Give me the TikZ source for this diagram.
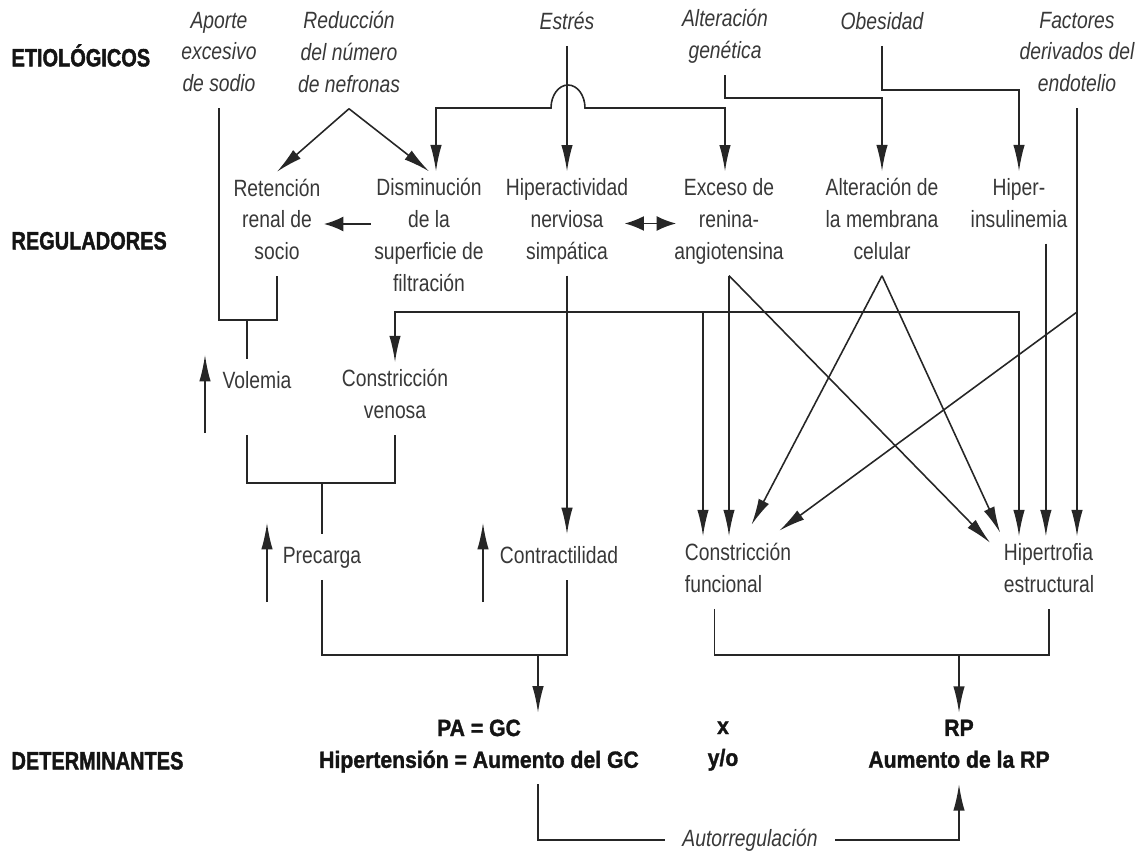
\documentclass[tikz,border=0pt]{standalone}
\usepackage{fontspec}
\setmainfont{Liberation Sans}[FakeStretch=0.82]
\newfontfamily\headfont{Liberation Sans}[FakeStretch=0.8,BoldFeatures={FakeBold=1.6}]
\newfontfamily\detfont{Liberation Sans}[FakeStretch=0.9,BoldFeatures={FakeBold=1.3}]
\usetikzlibrary{arrows.meta}

\begin{document}
\begin{tikzpicture}[x=0.02cm,y=-0.02cm,
  lab/.style={align=center,inner sep=0pt,outer xsep=2pt,outer ysep=4pt,text=black!78,
    font=\fontsize{13.4}{18.1}\selectfont,
    execute at begin node=\strut,execute at end node=\strut},
  cause/.style={lab,font=\fontsize{13.4}{18.1}\selectfont\itshape},
  head/.style={lab,anchor=west,text=black!92,font=\fontsize{14.2}{18.1}\selectfont\headfont\bfseries},
  det/.style={lab,text=black!92,font=\fontsize{13.4}{18.1}\selectfont\detfont\bfseries},
  ln/.style={draw=black!85,line width=0.9pt},
  arr/.style={ln,-{Latex[length=15pt,width=6.5pt]}},
  harr/.style={ln,-{Latex[length=11pt,width=8.5pt]}},
  dbl/.style={ln,{Latex[length=11pt,width=8.5pt]}-{Latex[length=11pt,width=8.5pt]}},
  dblv/.style={ln,{Latex[length=15pt,width=6.5pt]}-{Latex[length=15pt,width=6.5pt]}}]

\useasboundingbox (0,0) rectangle (1145,854);

\node[head] (hEtio) at (8,60) {ETIOLÓGICOS};
\node[head] (hReg) at (8,243) {REGULADORES};
\node[head] (hDet) at (8,763) {DETERMINANTES};

\node[cause] (aporte) at (219,56.5) {Aporte\\excesivo\\de sodio};
\node[cause] (reduccion) at (349,56.5) {Reducción\\del número\\de nefronas};
\node[cause] (estres) at (567,23) {Estrés};
\node[cause] (genetica) at (725,39) {Alteración\\genética};
\node[cause] (obesidad) at (882,23) {Obesidad};
\node[cause] (factores) at (1077,56.5) {Factores\\derivados del\\endotelio};

\node[lab] (retencion) at (277,224) {Retención\\renal de\\socio};
\node[lab] (disminucion) at (429,239.5) {Disminución\\de la\\superficie de\\filtración};
\node[lab] (hiperact) at (567,223.5) {Hiperactividad\\nerviosa\\simpática};
\node[lab] (exceso) at (729,223.5) {Exceso de\\renina-\\angiotensina};
\node[lab] (membrana) at (882,223.5) {Alteración de\\la membrana\\celular};
\node[lab] (insulin) at (1019,207.5) {Hiper-\\insulinemia};

\node[lab] (volemia) at (257,382) {Volemia};
\node[lab] (venosa) at (395,398.5) {Constricción\\venosa};
\node[lab] (precarga) at (322,557) {Precarga};
\node[lab] (contract) at (559,557) {Contractilidad};
\node[lab,align=left] (funcional) at (738,572.5) {Constricción\\funcional};
\node[lab,align=left] (hipertrofia) at (1049,572.5) {Hipertrofia\\estructural};

\node[det] (pagc) at (479,748.5) {PA = GC\\Hipertensión = Aumento del GC};
\node[det] (xyo) at (723,748.5) {x\\y/o};
\node[det] (rp) at (959,748.5) {RP\\Aumento de la RP};
\node[cause,outer xsep=10pt] (autorreg) at (750,840) {Autorregulación};

\coordinate (vJ) at (247,320);
\coordinate (pJ) at (322,483);
\coordinate (eL) at (436,108);
\coordinate (eA) at (551,108);
\coordinate (eR) at (725,108);
\coordinate (gJ) at (725,98);
\coordinate (oJ) at (1019,90);
\coordinate (hJ) at (567,312);
\coordinate (fA) at (703,312);
\coordinate (hR) at (1019,312);
\coordinate (cJ) at (538,655);
\coordinate (rJ) at (959,655);
\coordinate (upV) at (205,433);
\coordinate (upP) at (267,602);
\coordinate (upC) at (483,602);
\coordinate (iS) at ([xshift=15.3pt]insulin.south);
\coordinate (fS) at ([xshift=-13.3pt]funcional.south);

\draw[ln] (aporte.south) |- (vJ) -| (retencion.south);
\draw[ln] (vJ) -- (vJ |- volemia.north);
\draw[arr] (reduccion.south) -- (retencion.north);
\draw[arr] (reduccion.south) -- (disminucion.north);
\draw[harr] (disminucion.west |- retencion) -- (retencion.east);
\draw[arr] (estres.south) -- (hiperact.north);
\draw[dblv] (eL |- disminucion.north) -- (eL) -- (eA) arc[start angle=180,end angle=0,x radius=0.34cm,y radius=0.46cm] -- (eR) -- (eR |- exceso.north);
\draw[dbl,shorten <=-4pt,shorten >=-3pt] (hiperact.east) -- (exceso.west);
\draw[arr] (genetica.south) -- (gJ) -| (membrana.north);
\draw[arr] (obesidad.south) |- (oJ) -- (insulin.north);

\draw[arr] (hiperact.south) -- (hiperact.south |- contract.north);
\draw[arr] (hJ) -| (venosa.north);
\draw[arr] (hJ) -| (hR |- hipertrofia.north);
\draw[arr] (fA) -- (fA |- funcional.north);
\draw[arr] (exceso.south) -- (exceso.south |- funcional.north);
\draw[arr] (exceso.south) -- ([xshift=-33.5pt,yshift=-3.7pt]hipertrofia.north);
\draw[arr] (membrana.south) -- ([xshift=7.7pt,yshift=6.5pt]funcional.north);
\draw[arr] (membrana.south) -- ([xshift=-27.8pt,yshift=2pt]hipertrofia.north);
\draw[arr] (iS) -- (iS |- hipertrofia.north);
\draw[arr] (factores.south) -- (factores.south |- hipertrofia.north);
\draw[arr] (factores.south |- hJ) -- ([xshift=23.5pt,yshift=3.1pt]funcional.north);

\draw[arr] (upV) -- ++(0,-78);
\draw[ln] (vJ |- venosa.south) |- (pJ) -| (venosa.south);
\draw[ln] (pJ) -- (precarga.north);
\draw[arr] (upP) -- ++(0,-79);
\draw[arr] (upC) -- ++(0,-79);

\draw[ln] (precarga.south) |- (cJ) -| (hiperact.south |- contract.south);
\draw[arr] (cJ) -- (cJ |- pagc.north);
\draw[ln] (fS) |- (rJ) -| (hipertrofia.south);
\draw[arr] (rJ) -- (rp.north);
\draw[ln] (cJ |- pagc.south) |- (autorreg.west);
\draw[arr] (autorreg.east) -| (rp.south);
\end{tikzpicture}
\end{document}
